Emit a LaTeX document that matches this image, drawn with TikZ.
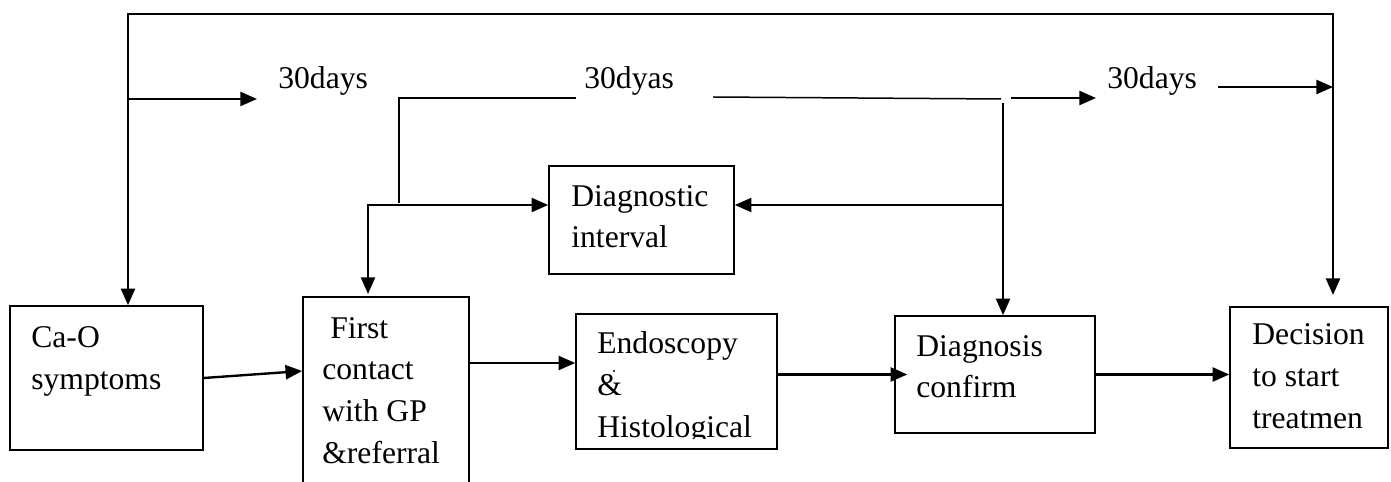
\documentclass[tikz,border=0pt]{standalone}
\usepackage{fontspec}
\setmainfont{Liberation Serif}
\usetikzlibrary{arrows.meta}

\begin{document}
\begin{tikzpicture}[x=0.02cm, y=-0.02cm,
	box/.style={draw, line width=0.9pt, inner sep=0pt},
	lbl/.style={inner sep=0pt, anchor=base west, align=left, font=\fontsize{18}{23.7}\selectfont},
	ln/.style={line width=0.85pt},
	arr/.style={line width=1.35pt, -{Triangle[length=9.5pt,width=8pt]}},
	dbl/.style={line width=1.35pt, {Triangle[length=9.5pt,width=8pt]}-{Triangle[length=9.5pt,width=8pt]}}]
			\clip (0,0) rectangle (1391,482);
			\node[box, minimum width=3.86cm, minimum height=2.88cm] (cao) at (106.5,378) {};
			\node[box, minimum width=3.32cm, minimum height=4.06cm] (fc) at (386,398.5) {};
			\node[box, minimum width=4.02cm, minimum height=2.70cm] (endo) at (676.5,381.5) {};
			\node[box, minimum width=4.00cm, minimum height=2.34cm] (dxc) at (995,374.5) {};
			\node[box, minimum width=3.16cm, minimum height=2.82cm] (dec) at (1309,377.5) {};
			\node[box, minimum width=3.70cm, minimum height=2.16cm] (dint) at (641.5,220) {};
			\node[lbl] (cao-t) at (31,389) {Ca-O\\symptoms};
			\node[lbl] (fc-t) at (322,463) {\ First\\contact\\with GP\\\&referral};
			\begin{scope}
				\clip (endo.north west) rectangle ([yshift=0.22cm]endo.south east);
				\node[lbl] (endo-t) at (597,437) {Endoscopy\\\&\\Histological};
			\end{scope}
			\fill (614,371) circle (0.7pt);
			\node[lbl] (dxc-t) at (916,398) {Diagnosis\\confirm};
			\node[lbl] (dec-t) at (1252,428) {Decision\\to start\\treatmen};
			\node[lbl] (dint-t) at (571,248) {Diagnostic\\interval};
			\node[lbl] (d1) at (278,89) {30days};
			\node[lbl] (d2) at (584,89) {30dyas};
			\node[lbl] (d3) at (1107,89) {30days};
			\coordinate (tl) at (128,14);
			\coordinate (tr) at (1333,14);
			\coordinate (decin) at (1333,295);
			\coordinate (d1in) at (257,99);
			\coordinate (b1) at (399,203);
			\coordinate (b2) at (399,98);
			\coordinate (b3) at (576,98);
			\coordinate (c1) at (713,97);
			\coordinate (c2) at (1001,99);
			\coordinate (v1) at (1003,103);
			\coordinate (e1) at (1011,98);
			\coordinate (e2) at (1096,98);
			\coordinate (f1) at (1218,87);
			\coordinate (g1) at (368,205);
			\coordinate (fcin) at (368,294);
			\coordinate (h1) at (1003,205);
			\coordinate (endoin) at ([yshift=0.37cm]endo.west);
			\draw[dbl] (tl |- cao.north) -- (tl) -- (tr) -- (decin);
			\draw[arr] (tl |- d1in) -- (d1in);
			\draw[ln] (b1) -- (b2) -- (b3);
			\draw[ln] (c1) -- (c2);
			\draw[arr] (v1) -- (v1 |- dxc.north);
			\draw[arr] (e1) -- (e2);
			\draw[arr] (f1) -- (f1 -| tr);
			\draw[dbl] (fcin) -- (g1) -- (g1 -| dint.west);
			\draw[arr] (h1) -- (h1 -| dint.east);
			\draw[arr] (cao.east) -- ([yshift=0.55cm]fc.west);
			\draw[arr] (fc.east |- endoin) -- (endoin);
			\draw[arr] (endo.east |- dxc.west) -- ([xshift=0.26cm]dxc.west);
			\draw[arr] (dxc.east) -- (dec.west |- dxc.east);
		\end{tikzpicture}
\end{document}
